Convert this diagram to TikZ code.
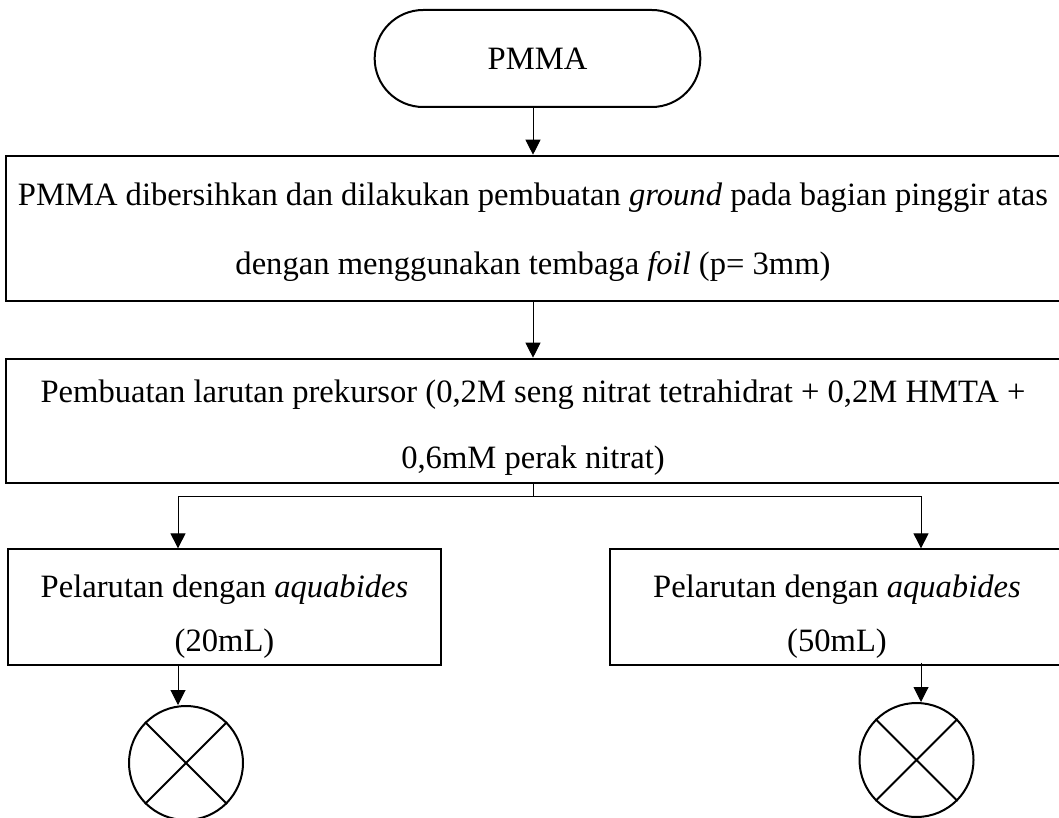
\documentclass[tikz,border=0pt]{standalone}
\usepackage{fontspec}
\setmainfont{Liberation Serif}
\usetikzlibrary{shapes.misc,arrows.meta}

\begin{document}
\begin{tikzpicture}[x=0.5pt,y=-0.5pt,
    arr/.style={-{Triangle[length=7.5pt,width=7.5pt]},line width=0.5pt},
    terminal/.style={draw,rounded rectangle,line width=1pt,minimum width=169.5pt,minimum height=48.5pt,font=\fontsize{16.3}{19}\selectfont},
    bigbox/.style={draw,line width=1.3pt,minimum width=527pt,align=center,inner sep=0pt},
    smallbox/.style={draw,line width=0.65pt,align=center,minimum height=58pt,inner sep=0pt,font=\fontsize{16.3}{27}\selectfont},
    sink/.style={draw,circle,line width=1pt,minimum size=57pt,inner sep=0pt}]
                    % \draw[help lines,step=50] (0,0) grid (1059,818);
                    \useasboundingbox (0,0) rectangle (1059,818);

                    \node [terminal] (P) at (537.5,58.5) {PMMA};

                    \node [bigbox,minimum height=72.5pt,font=\fontsize{16.3}{34.5}\selectfont] (B1) at (533,228.5)
                        {\rule{0pt}{15pt}PMMA dibersihkan dan dilakukan pembuatan \textit{ground} pada bagian pinggir atas\\
                         dengan menggunakan tembaga \textit{foil} (p= 3mm)};
                    \draw [arr] (P.south -| B1.north) -- (B1.north);

                    \node [bigbox,minimum height=62pt,font=\fontsize{16.3}{33}\selectfont] (B2) at (533,421)
                        {\rule{0pt}{18pt}Pembuatan larutan prekursor (0,2M seng nitrat tetrahidrat + 0,2M HMTA +\\
                         0,6mM perak nitrat)};
                    \draw [arr] (B1) -- (B2);

                    \coordinate (S) at (533,496); \coordinate (SL) at (178,496); \coordinate (SR) at (921,496);
                    \draw [line width=0.5pt] (B2.south) -- (S); \draw [line width=0.5pt] (SL) -- (SR);

                    \node [smallbox,minimum width=216.5pt] (L) at (224.5,607) {\rule{0pt}{21pt}Pelarutan dengan \textit{aquabides}\\(20mL)};
                    \node [smallbox,minimum width=227pt] (R) at (837,607) {\rule{0pt}{21pt}Pelarutan dengan \textit{aquabides}\\(50mL)};
                    \draw [arr] (SL) -- (SL |- L.north);
                    \draw [arr] (SR) -- (SR |- R.north);

                    \node [sink] (CL) at (186,763) {}; \draw [line width=1pt] (CL.45) -- (CL.225) (CL.135) -- (CL.315);
                    \node [sink] (CR) at (916.5,760) {}; \draw [line width=1pt] (CR.45) -- (CR.225) (CR.135) -- (CR.315);
                    \draw [arr] (SL |- L.south) -- (SL |- CL.north);
                    \draw [arr] ([yshift=1.5pt]SR |- R.south) -- (SR |- CR.north);
\end{tikzpicture}
\end{document}
